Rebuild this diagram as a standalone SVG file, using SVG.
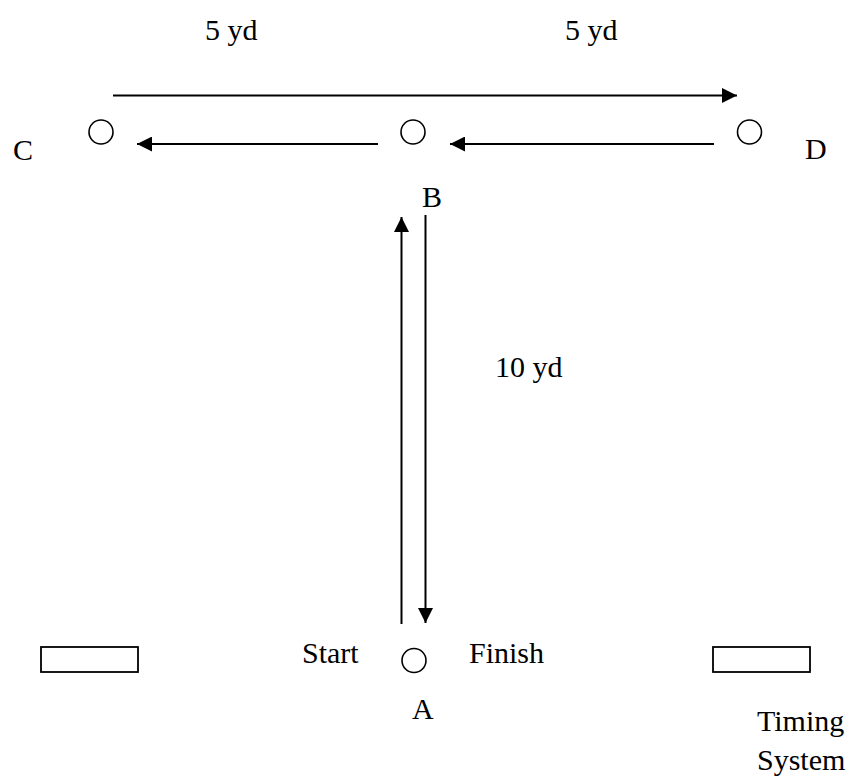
<svg xmlns="http://www.w3.org/2000/svg" width="853" height="779" viewBox="0 0 853 779">
  <style>
    text { font-family: "Liberation Serif", "Times New Roman", serif; font-size: 30px; fill: #000; }
    .cone { fill: #fff; stroke: #000; stroke-width: 1.6; }
    .box { fill: #fff; stroke: #000; stroke-width: 1.8; }
    .run { stroke: #000; stroke-width: 2; fill: none; }
  </style>
  <defs>
    <marker id="ah" markerWidth="15" markerHeight="15" refX="15" refY="7.5" orient="auto" markerUnits="userSpaceOnUse">
      <path d="M0,0 L15,7.5 L0,15 Z" fill="#000"/>
    </marker>
  </defs>
  <rect width="853" height="779" fill="#fff"/>

  <g id="connectors">
    <line class="run" x1="113" y1="95.5" x2="737" y2="95.5" marker-end="url(#ah)"/>
    <line class="run" x1="378" y1="144" x2="137" y2="144" marker-end="url(#ah)"/>
    <line class="run" x1="714" y1="144" x2="450" y2="144" marker-end="url(#ah)"/>
    <line class="run" x1="401.5" y1="624" x2="401.5" y2="217" marker-end="url(#ah)"/>
    <line class="run" x1="425.5" y1="215" x2="425.5" y2="623" marker-end="url(#ah)"/>
  </g>

  <g id="label-5yd-left"><text x="205" y="40">5 yd</text></g>
  <g id="label-5yd-right"><text x="565" y="40">5 yd</text></g>
  <g id="label-10yd"><text x="495" y="377">10 yd</text></g>

  <g id="node-C">
    <circle class="cone" cx="101" cy="132" r="12"/>
    <text x="13" y="160">C</text>
  </g>
  <g id="node-B">
    <circle class="cone" cx="413" cy="132" r="12"/>
    <text x="422" y="207">B</text>
  </g>
  <g id="node-D">
    <circle class="cone" cx="749.5" cy="132" r="12"/>
    <text x="805" y="159">D</text>
  </g>
  <g id="node-A">
    <circle class="cone" cx="414" cy="660.5" r="12"/>
    <text x="302" y="663">Start</text>
    <text x="469" y="663">Finish</text>
    <text x="412" y="719">A</text>
  </g>
  <g id="timing-left">
    <rect class="box" x="41" y="647" width="97" height="25"/>
  </g>
  <g id="timing-right">
    <rect class="box" x="713" y="647" width="97" height="25"/>
    <text x="757" y="731">Timing</text>
    <text x="757" y="770">System</text>
  </g>
</svg>
